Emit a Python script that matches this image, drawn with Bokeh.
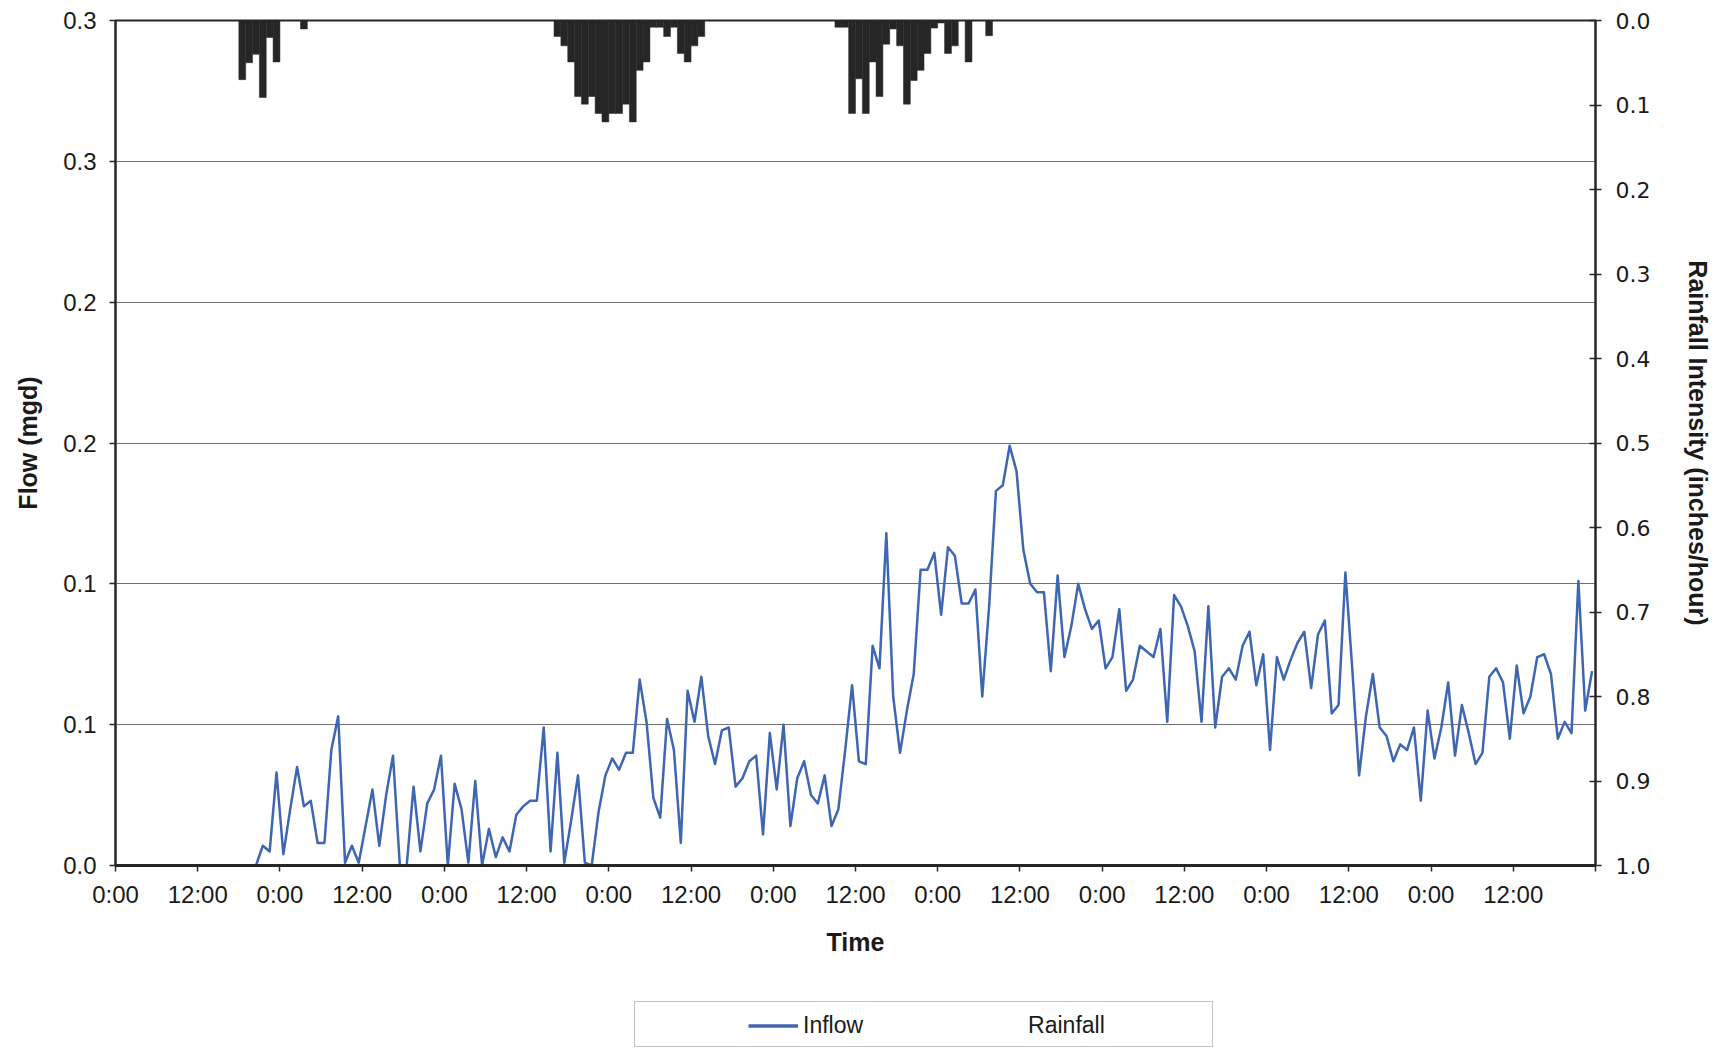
import numpy as np
from bokeh.plotting import figure
from bokeh.layouts import column
from bokeh.models import Range1d, LinearAxis, FixedTicker, Legend, LegendItem
from bokeh.embed import file_html
from bokeh.resources import INLINE

# Hourly inflow (mgd); first reading falls mid-hour at 20:30 on day 0
inflow_start_hour = 20.5
inflow_mgd = [
    0.000, 0.007, 0.005, 0.033, 0.004, 0.020, 0.035, 0.021, 0.023, 0.008,
    0.008, 0.041, 0.053, 0.001, 0.007, 0.001, 0.014, 0.027, 0.007, 0.025,
    0.039, 0.000, 0.000, 0.028, 0.005, 0.022, 0.027, 0.039, 0.000, 0.029,
    0.020, 0.001, 0.030, 0.000, 0.013, 0.003, 0.010, 0.005, 0.018,
    0.021, 0.023, 0.023, 0.049, 0.005, 0.040, 0.001, 0.016, 0.032, 0.001,
    0.000, 0.019, 0.032, 0.038, 0.034, 0.040, 0.040, 0.066, 0.051, 0.024,
    0.017, 0.052, 0.041, 0.008, 0.062, 0.051, 0.067, 0.046, 0.036, 0.048,
    0.049, 0.028, 0.031, 0.037, 0.039, 0.011, 0.047, 0.027, 0.050,
    0.014, 0.031, 0.037, 0.025, 0.022, 0.032, 0.014, 0.020, 0.041, 0.064,
    0.037, 0.036, 0.078, 0.070, 0.118, 0.060, 0.040, 0.055, 0.068, 0.105,
    0.105, 0.111, 0.089, 0.113, 0.110, 0.093, 0.093, 0.098, 0.060, 0.092,
    0.133, 0.135, 0.149, 0.140, 0.112, 0.100, 0.097, 0.097, 0.069, 0.103,
    0.074, 0.085, 0.100, 0.091, 0.084, 0.087, 0.070, 0.074, 0.091, 0.062,
    0.066, 0.078, 0.076, 0.074, 0.084, 0.051, 0.096, 0.092, 0.085, 0.076,
    0.051, 0.092, 0.049, 0.067, 0.070, 0.066, 0.078, 0.083, 0.064, 0.075,
    0.041, 0.074, 0.066, 0.073, 0.079, 0.083, 0.063, 0.082, 0.087,
    0.054, 0.057, 0.104, 0.070, 0.032, 0.053, 0.068, 0.049, 0.046, 0.037,
    0.043, 0.041, 0.049, 0.023, 0.055, 0.038, 0.049, 0.065, 0.039, 0.057,
    0.047, 0.036, 0.040, 0.067, 0.070, 0.065, 0.045, 0.071, 0.054, 0.060,
    0.074, 0.075, 0.068, 0.045, 0.051, 0.047, 0.101, 0.055, 0.069,
]

# Hourly rainfall intensity (inches/hour); each bar covers [hour, hour + 1)
rain_hour = [
    18, 19, 20, 21, 22, 23, 27,
    64, 65, 66, 67, 68, 69, 70, 71, 72, 73, 74, 75, 76, 77, 78, 79, 80, 81,
    82, 83, 84, 85,
    105, 106, 107, 108, 109, 110, 111, 112, 113, 114, 115, 116, 117, 118,
    119, 120, 121, 122, 124, 127,
]
rain_in_per_hr = [
    0.070, 0.050, 0.040, 0.091, 0.020, 0.049, 0.010,
    0.019, 0.030, 0.049, 0.090, 0.099, 0.090, 0.110, 0.120, 0.110, 0.110,
    0.099, 0.120, 0.059, 0.049, 0.008, 0.008, 0.019, 0.008, 0.039, 0.049,
    0.030, 0.019,
    0.008, 0.008, 0.110, 0.069, 0.110, 0.049, 0.090, 0.028, 0.010, 0.030,
    0.099, 0.071, 0.059, 0.039, 0.009, 0.003, 0.039, 0.030, 0.049, 0.018,
]

x_tick_hours = [0, 12, 24, 36, 48, 60, 72, 84, 96, 108, 120, 132, 144, 156,
                168, 180, 192, 204, 216]
x_tick_labels = ["0:00", "12:00"] * 9 + [""]

flow_ticks = [0.0, 0.05, 0.1, 0.15, 0.2, 0.25, 0.3]
flow_tick_labels = ["0.0", "0.1", "0.1", "0.2", "0.2", "0.3", "0.3"]

rain_ticks = [0.0, 0.1, 0.2, 0.3, 0.4, 0.5, 0.6, 0.7, 0.8, 0.9, 1.0]
rain_tick_labels = ["0.0", "0.1", "0.2", "0.3", "0.4", "0.5", "0.6", "0.7",
                    "0.8", "0.9", "1.0"]

TEXT = "#1a1a1a"
AXIS = "#262626"
FONT = "Liberation Sans"
INFLOW_COLOR = "#3f66b2"

inflow_hours = inflow_start_hour + np.arange(len(inflow_mgd))
rain_left = np.array(rain_hour, dtype=float)
rain_right = rain_left + 1.0

p = figure(
    width=1725, height=965,
    x_range=Range1d(0, 216), y_range=Range1d(0, 0.3),
    output_backend="svg", toolbar_location=None,
    min_border_left=115, min_border_right=130,
    min_border_top=20, min_border_bottom=100,
)
p.extra_y_ranges = {"rain": Range1d(1.0, 0.0)}
p.background_fill_color = "white"
p.border_fill_color = "white"
p.outline_line_color = AXIS
p.outline_line_width = 2

# horizontal gridlines on the flow scale
p.xgrid.visible = False
p.ygrid.ticker = FixedTicker(ticks=flow_ticks)
p.ygrid.grid_line_color = "#707070"
p.ygrid.grid_line_width = 1.2

# rainfall bars hang from the top on the inverted right-hand scale
p.quad(left=rain_left, right=rain_right, top=0.0, bottom=rain_in_per_hr,
       y_range_name="rain", fill_color="#262626", line_color="#262626",
       line_width=0.5)

p.line(inflow_hours, inflow_mgd, line_color=INFLOW_COLOR,
       line_width=2.5, line_join="round")

# left axis: flow
ya = p.yaxis[0]
ya.ticker = FixedTicker(ticks=flow_ticks)
ya.major_label_overrides = dict(zip(flow_ticks, flow_tick_labels))
ya.axis_label = "Flow (mgd)"
ya.axis_label_text_font = FONT
ya.axis_label_text_font_size = "25px"
ya.axis_label_text_font_style = "bold"
ya.axis_label_text_color = TEXT
ya.axis_label_standoff = 18
ya.major_label_text_font = FONT
ya.major_label_text_font_size = "24px"
ya.major_label_text_color = TEXT
ya.major_label_standoff = 13
ya.major_tick_out = 6
ya.major_tick_in = 0
ya.minor_tick_line_color = None
ya.axis_line_color = AXIS
ya.axis_line_width = 2
ya.major_tick_line_color = AXIS
ya.major_tick_line_width = 1.5

# bottom axis: time of day, every 12 hours
xa = p.xaxis[0]
xa.ticker = FixedTicker(ticks=x_tick_hours)
xa.major_label_overrides = dict(zip(x_tick_hours, x_tick_labels))
xa.axis_label = "Time"
xa.axis_label_text_font = FONT
xa.axis_label_text_font_size = "25px"
xa.axis_label_text_font_style = "bold"
xa.axis_label_text_color = TEXT
xa.axis_label_standoff = 17
xa.major_label_text_font = FONT
xa.major_label_text_font_size = "24px"
xa.major_label_text_color = TEXT
xa.major_label_standoff = 9
xa.major_tick_out = 6
xa.major_tick_in = 0
xa.minor_tick_line_color = None
xa.axis_line_color = AXIS
xa.axis_line_width = 3
xa.major_tick_line_color = AXIS
xa.major_tick_line_width = 1.5

# right axis: rainfall intensity, zero at the top
ra = LinearAxis(y_range_name="rain", ticker=FixedTicker(ticks=rain_ticks))
ra.major_label_overrides = dict(zip(rain_ticks, rain_tick_labels))
ra.axis_label = "Rainfall Intensity (inches/hour)"
ra.axis_label_text_font = FONT
ra.axis_label_text_font_size = "25px"
ra.axis_label_text_font_style = "bold"
ra.axis_label_text_color = TEXT
ra.axis_label_standoff = 31
ra.major_label_text_font = "DejaVu Sans"
ra.major_label_text_font_size = "22px"
ra.major_label_text_color = TEXT
ra.major_label_standoff = 14
ra.major_tick_out = 6
ra.major_tick_in = 6
ra.minor_tick_line_color = None
ra.axis_line_color = AXIS
ra.axis_line_width = 2
ra.major_tick_line_color = AXIS
ra.major_tick_line_width = 1.5
p.add_layout(ra, "right")

# legend strip under the chart: framed box with Inflow and Rainfall entries
# (the strip's frame lines up with the chart frame, so x is measured from it)
leg = figure(
    width=1725, height=84, x_range=Range1d(0, 1), y_range=Range1d(0, 1),
    output_backend="svg", toolbar_location=None,
    x_axis_location=None, y_axis_location=None, min_border=0,
)
leg.grid.visible = False
leg.outline_line_color = None
leg.background_fill_color = "white"
leg.border_fill_color = "white"

# key renderers sit outside the strip's visible range; only their legend
# swatches are drawn
blank_key = leg.line([5, 6], [5, 5], line_alpha=0)
inflow_key = leg.line([5, 6], [5, 5], line_color=INFLOW_COLOR, line_width=3.5)
rain_key = leg.line([5, 6], [5, 5], line_alpha=0)

legend_box = Legend(
    items=[LegendItem(label="", renderers=[blank_key])],
    location=(519, 2), orientation="horizontal",
    padding=0, margin=0, spacing=0,
    glyph_width=577, glyph_height=44, label_width=0, label_standoff=0,
    border_line_color="#8a8a8a", border_line_width=1.5,
    background_fill_color="white", background_fill_alpha=1.0,
)
legend_items = Legend(
    items=[LegendItem(label="Inflow", renderers=[inflow_key]),
           LegendItem(label="Rainfall", renderers=[rain_key])],
    location=(633, 10), orientation="horizontal",
    padding=0, margin=0, spacing=110,
    glyph_width=50, glyph_height=27, label_standoff=5,
    label_text_font=FONT, label_text_font_size="23px",
    label_text_color=TEXT,
    border_line_alpha=0, background_fill_alpha=0,
)
leg.add_layout(legend_box, "center")
leg.add_layout(legend_items, "center")

layout = column(p, leg, spacing=0)
open("out.html", "w").write(file_html(layout, INLINE))
